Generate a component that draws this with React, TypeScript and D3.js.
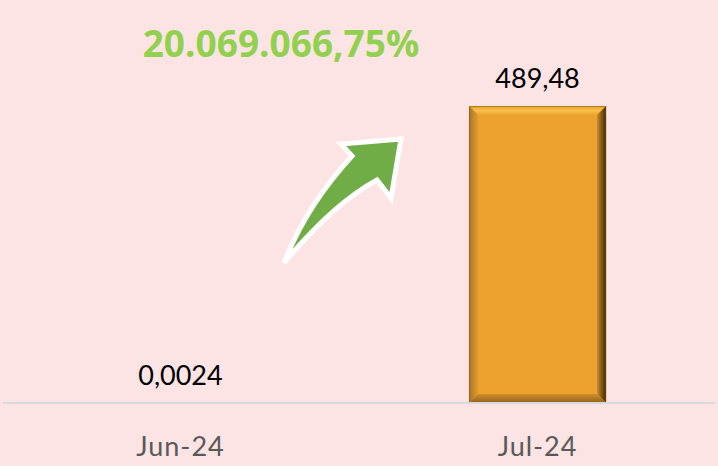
import React from "react";
import * as d3 from "d3";

const categories = ["Jun-24", "Jul-24"];
const values = [0.0024, 489.48];
const valueLabels = ["0,0024", "489,48"];
const changeLabel = "20.069.066,75%";

const W = 718;
const H = 466;

export default function App() {
  const x = d3.scaleBand<string>().domain(categories).range([3, 715]).paddingInner(0.616).paddingOuter(0.305);
  const y = d3.scaleLinear().domain([0, 600]).range([403, 39]);
  const bw = x.bandwidth();
  const b = 9; // bevel size

  const arrowPath =
    "M284,263 Q306,206 352,156 L341,144 L401,139 L391,198 L377,180 Q333,204 284,263 Z";

  return (
    <svg width={W} height={H} style={{ position: "fixed", left: 0, top: 0, display: "block" }}>
      <defs>
        <linearGradient id="topG" x1="0" y1="0" x2="0" y2="1">
          <stop offset="0" stopColor="#E9A030" />
          <stop offset="0.5" stopColor="#FBC24B" />
          <stop offset="1" stopColor="#EDA22F" />
        </linearGradient>
        <linearGradient id="rightG" x1="0" y1="0" x2="1" y2="0">
          <stop offset="0" stopColor="#C98A28" />
          <stop offset="1" stopColor="#3E270B" />
        </linearGradient>
        <linearGradient id="leftG" x1="0" y1="0" x2="1" y2="0">
          <stop offset="0" stopColor="#A7742A" />
          <stop offset="1" stopColor="#E39B2E" />
        </linearGradient>
        <linearGradient id="botG" x1="0" y1="0" x2="0" y2="1">
          <stop offset="0" stopColor="#D08E2A" />
          <stop offset="1" stopColor="#8E611E" />
        </linearGradient>
      </defs>
      <rect x={0} y={0} width={W} height={H} fill="#FCE4E4" />

      {categories.map((c, i) => {
        const x0 = x(c)!;
        const x1 = x0 + bw;
        const y0 = y(values[i]);
        const y1 = y(0);
        const h = y1 - y0;
        if (h < 2 * b) return null;
        return (
          <g key={c}>
            <rect x={x0} y={y0} width={bw} height={h} fill="#ECA12E" />
            <polygon points={`${x0},${y0} ${x1},${y0} ${x1 - b},${y0 + b} ${x0 + b},${y0 + b}`} fill="url(#topG)" />
            <polygon points={`${x0},${y0} ${x0 + b},${y0 + b} ${x0 + b},${y1 - b} ${x0},${y1}`} fill="url(#leftG)" />
            <polygon points={`${x1},${y0} ${x1 - b},${y0 + b} ${x1 - b},${y1 - b} ${x1},${y1}`} fill="url(#rightG)" />
            <polygon points={`${x0},${y1} ${x0 + b},${y1 - b} ${x1 - b},${y1 - b} ${x1},${y1}`} fill="url(#botG)" />
            <rect x={x0 + 0.5} y={y0 + 0.5} width={bw - 1} height={h - 1} fill="none" stroke="#7A5418" strokeOpacity={0.5} strokeWidth={1} />
          </g>
        );
      })}

      <line x1={3} x2={715} y1={y(0)} y2={y(0)} stroke="#D9D9D9" strokeWidth={2} />

      {categories.map((c, i) => (
        <text
          key={"v" + c}
          x={x(c)! + bw / 2}
          y={Math.min(y(values[i]), y(0)) - 18}
          textAnchor="middle"
          fontFamily="Lato, 'Open Sans', sans-serif"
          fontSize={27}
          fill="#000"
        >
          {valueLabels[i]}
        </text>
      ))}

      {categories.map((c) => (
        <text
          key={"t" + c}
          x={x(c)! + bw / 2}
          y={456}
          textAnchor="middle"
          fontFamily="Lato, 'Open Sans', sans-serif"
          fontSize={27}
          letterSpacing={1}
          fill="#595959"
        >
          {c}
        </text>
      ))}

      <text x={281} y={57} textAnchor="middle" fontFamily="'Open Sans', Lato, sans-serif" fontWeight="bold" fontSize={37} fill="#92D050">
        {changeLabel}
      </text>

      <path d={arrowPath} fill="#70AD47" stroke="#FFFFFF" strokeWidth={5} strokeLinejoin="miter" />
    </svg>
  );
}
